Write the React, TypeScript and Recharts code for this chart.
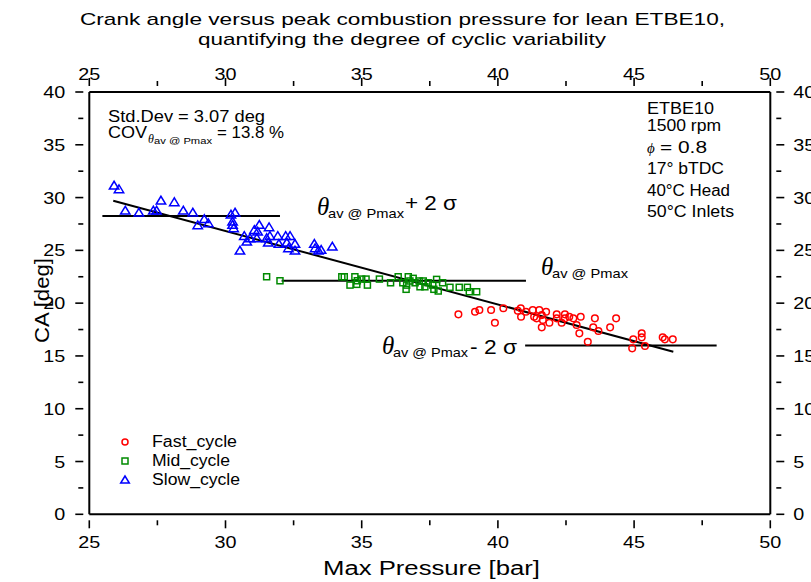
import React from 'react';
import { ScatterChart, Scatter, XAxis, YAxis, ReferenceLine, Legend } from 'recharts';

// Max pressure [bar] / crank angle [deg] pairs
const fastPmax = [38.55, 39.16, 39.32, 39.75, 39.89, 40.2, 40.73, 40.84, 40.85, 41.03, 41.28, 41.33, 41.42, 41.52, 41.61, 41.65, 41.61, 41.77, 41.89, 42.16, 42.16, 42.34, 42.46, 42.46, 42.62, 42.77, 43.04, 42.89, 42.99, 43.56, 43.5, 43.69, 43.3, 44.12, 44.34, 44.97, 44.93, 45.28, 45.28, 45.4, 46.05, 46.13, 46.42];
const fastCA = [18.94, 19.19, 19.35, 19.35, 18.14, 19.51, 19.28, 19.51, 18.71, 19.19, 19.35, 18.71, 18.56, 19.35, 18.87, 18.4, 17.71, 19.19, 18.14, 18.94, 18.56, 18.14, 18.94, 18.56, 18.71, 18.56, 18.71, 17.93, 17.14, 18.56, 17.71, 17.36, 16.34, 17.71, 18.56, 16.57, 15.72, 17.14, 16.76, 15.94, 16.76, 16.57, 16.57];

const midPmax = [31.51, 32.0, 34.27, 34.36, 34.75, 34.57, 34.82, 34.84, 35.0, 35.16, 35.21, 35.65, 36.06, 36.34, 36.51, 36.71, 36.65, 36.63, 36.77, 36.89, 36.96, 37.11, 37.14, 37.26, 37.32, 37.44, 37.61, 37.65, 37.75, 37.81, 37.97, 38.24, 38.58, 38.88, 38.95, 39.22];
const midCA = [22.5, 22.12, 22.5, 22.5, 22.5, 21.71, 21.78, 22.12, 22.28, 22.28, 21.71, 22.28, 21.93, 22.5, 21.93, 22.5, 21.71, 21.31, 22.1, 22.35, 21.93, 22.1, 21.55, 22.1, 21.55, 21.93, 21.71, 21.31, 22.25, 21.15, 21.93, 21.5, 21.5, 21.5, 21.08, 21.08];

const slowPmax = [25.91, 26.09, 27.63, 28.12, 26.32, 26.82, 27.35, 27.47, 28.45, 28.8, 29.22, 29.37, 28.98, 30.2, 30.35, 30.26, 30.26, 30.3, 30.69, 30.78, 30.53, 30.9, 31.06, 31.24, 31.18, 31.15, 31.6, 31.51, 31.63, 31.57, 31.92, 31.96, 32.21, 32.37, 32.25, 32.31, 32.55, 32.55, 33.26, 33.29, 33.41, 33.51, 33.92];
const slowCA = [31.12, 30.78, 29.7, 29.55, 28.75, 28.56, 28.75, 28.75, 28.75, 28.56, 27.94, 27.56, 27.37, 28.37, 28.56, 27.71, 27.4, 27.08, 26.35, 25.81, 24.96, 26.14, 26.92, 27.4, 26.76, 26.14, 27.18, 26.14, 26.35, 25.72, 26.35, 25.6, 26.35, 26.35, 25.72, 25.19, 25.6, 24.96, 25.6, 25.19, 24.96, 25.03, 25.34];

const meanCA = 22.12;
const stdDev = 3.07;
const upperBand = [25.48, 32.0];
const meanBand = [32.06, 41.03];
const lowerBand = [41.0, 48.03];
const fitStart = [25.88, 29.7];
const fitEnd = [46.44, 15.4];

const xTicks = [25, 27.5, 30, 32.5, 35, 37.5, 40, 42.5, 45, 47.5, 50];
const yTicks = [0, 2.5, 5, 7.5, 10, 12.5, 15, 17.5, 20, 22.5, 25, 27.5, 30, 32.5, 35, 37.5, 40];

const zip = (xs: number[], ys: number[]) => xs.map((x, i) => ({ x, y: ys[i] }));
const fastData = zip(fastPmax, fastCA);
const midData = zip(midPmax, midCA);
const slowData = zip(slowPmax, slowCA);

const FONT = '"Liberation Sans", Arial, sans-serif';
const RED = '#ff0000';
const GREEN = '#008a00';
const BLUE = '#0000ff';

const circleShape = (p: any) => <circle cx={p.cx} cy={p.cy} r={3.3} fill="none" stroke={RED} strokeWidth={1.5} />;
const squareShape = (p: any) => <rect x={p.cx - 3} y={p.cy - 3} width={6} height={6} fill="none" stroke={GREEN} strokeWidth={1.5} />;
const triangleShape = (p: any) => (
  <polygon points={`${p.cx},${p.cy - 4.5} ${p.cx - 4.7},${p.cy + 3.3} ${p.cx + 4.7},${p.cy + 3.3}`} fill="none" stroke={BLUE} strokeWidth={1.5} />
);

const isMajor = (v: number) => v % 5 === 0;
const labelWidth = (v: number) => String(v).length * 11;

const XTick = (props: any) => {
  const { x, y, payload, side } = props;
  const v = payload.value;
  const dir = side === 'bottom' ? 1 : -1;
  const len = isMajor(v) ? 8 : 5;
  return (
    <g>
      <line x1={x} x2={x} y1={y} y2={y + dir * len} stroke="#000" strokeWidth={1.6} />
      {isMajor(v) && (
        <text x={x} y={side === 'bottom' ? y + 27.5 : y - 6} textAnchor="middle" fontSize={16.5} fontFamily={FONT}
          textLength={labelWidth(v)} lengthAdjust="spacingAndGlyphs">{v}</text>
      )}
    </g>
  );
};

const YTick = (props: any) => {
  const { x, y, payload, side } = props;
  const v = payload.value;
  const dir = side === 'left' ? -1 : 1;
  const len = isMajor(v) ? 8 : 5;
  return (
    <g>
      <line x1={x} x2={x + dir * len} y1={y} y2={y} stroke="#000" strokeWidth={1.6} />
      {isMajor(v) && (
        <text x={side === 'left' ? x - 18 : x + 17} y={y + 6} textAnchor={side === 'left' ? 'end' : 'start'} fontSize={16.5}
          fontFamily={FONT} textLength={labelWidth(v)} lengthAdjust="spacingAndGlyphs">{v}</text>
      )}
    </g>
  );
};

const legendMarks: Record<string, (cx: number, cy: number) => React.ReactNode> = {
  Fast_cycle: (cx, cy) => <circle cx={cx} cy={cy} r={3} fill="none" stroke={RED} strokeWidth={1.5} />,
  Mid_cycle: (cx, cy) => <rect x={cx - 3} y={cy - 3} width={6} height={6} fill="none" stroke={GREEN} strokeWidth={1.5} />,
  Slow_cycle: (cx, cy) => <polygon points={`${cx},${cy - 4} ${cx - 4.3},${cy + 3} ${cx + 4.3},${cy + 3}`} fill="none" stroke={BLUE} strokeWidth={1.5} />,
};
const legendWidths: Record<string, number> = { Fast_cycle: 85, Mid_cycle: 78, Slow_cycle: 88 };

const renderLegend = (props: any) => {
  const items = props.payload || [];
  return (
    <svg width={150} height={64}>
      {items.map((it: any, i: number) => {
        const cy = 12 + i * 19;
        return (
          <g key={it.value}>
            {legendMarks[it.value]?.(15, cy)}
            <text x={42} y={cy + 5} fontSize={16} fontFamily={FONT} textLength={legendWidths[it.value]} lengthAdjust="spacingAndGlyphs">{it.value}</text>
          </g>
        );
      })}
    </svg>
  );
};

const T = ({ x, y, w, size = 16, children, italic, serif, anchor }: any) => (
  <text x={x} y={y} fontSize={size} textLength={w} lengthAdjust="spacingAndGlyphs" textAnchor={anchor}
    fontStyle={italic ? 'italic' : 'normal'} fontFamily={serif ? '"Liberation Serif", "DejaVu Serif", serif' : FONT}>
    {children}
  </text>
);

const Theta = ({ x, y, subW, rest, restW, restDx, restDy }: any) => (
  <g>
    <T x={x} y={y} size={25} italic serif>θ</T>
    <T x={x + 11} y={y + 3} w={subW} size={13}>av @ Pmax</T>
    {rest && <T x={x + 11 + subW + restDx} y={y + restDy} w={restW} size={21}>{rest}</T>}
  </g>
);

const Overlay = () => (
  <svg width={811} height={582} style={{ position: 'absolute', left: 0, top: 0, pointerEvents: 'none' }}>
    <T x={80} y={25} w={645} size={17}>Crank angle versus peak combustion pressure for lean ETBE10,</T>
    <T x={198} y={45} w={408} size={17}>quantifying the degree of cyclic variability</T>
    <T x={323} y={575} w={217} size={20}>Max Pressure [bar]</T>
    <g transform="translate(49,343) rotate(-90)">
      <T x={0} y={0} w={85} size={20}>CA [deg]</T>
    </g>

    <T x={108} y={122} w={157} size={16}>Std.Dev = 3.07 deg</T>
    <T x={108} y={138} w={39} size={16}>COV</T>
    <T x={148} y={143} size={12} italic serif>θ</T>
    <T x={154} y={144} w={58} size={9}>av @ Pmax</T>
    <T x={217} y={138} w={67} size={16}>= 13.8 %</T>

    <T x={647} y={114} w={67} size={16}>ETBE10</T>
    <T x={647} y={131} w={74} size={16}>1500 rpm</T>
    <T x={647} y={152.5} size={15} italic serif>ϕ</T>
    <T x={660} y={152.5} w={47} size={16}>= 0.8</T>
    <T x={647} y={174} w={77} size={16}>17° bTDC</T>
    <T x={647} y={195.5} w={83} size={16}>40°C Head</T>
    <T x={647} y={217} w={87} size={16}>50°C Inlets</T>

    <Theta x={317} y={215} subW={76} rest="+ 2 σ" restW={52} restDx={1} restDy={-5} />
    <Theta x={541} y={275} subW={76} />
    <Theta x={382} y={354} subW={75} rest="- 2 σ" restW={47} restDx={2} restDy={0} />
  </svg>
);

const App: React.FC = () => {
  const upper = meanCA + 2 * stdDev;
  const lower = meanCA - 2 * stdDev;
  return (
    <div style={{ position: 'absolute', left: 0, top: 0, width: 811, height: 582, background: '#fff' }}>
      <ScatterChart width={811} height={582} margin={{ top: 62, right: 0.7, bottom: 37.7, left: 49.3 }}>
        <XAxis xAxisId="b" type="number" dataKey="x" orientation="bottom" domain={[25, 50]} ticks={xTicks} interval={0}
          allowDataOverflow height={30} tickLine={false} tickMargin={0} axisLine={{ stroke: '#000', strokeWidth: 2 }}
          tick={(p: any) => <XTick {...p} side="bottom" />} />
        <XAxis xAxisId="t" type="number" dataKey="x" orientation="top" domain={[25, 50]} ticks={xTicks} interval={0}
          allowDataOverflow height={30} tickLine={false} tickMargin={0} axisLine={{ stroke: '#000', strokeWidth: 2 }}
          tick={(p: any) => <XTick {...p} side="top" />} />
        <YAxis yAxisId="l" type="number" dataKey="y" orientation="left" domain={[0, 40]} ticks={yTicks} interval={0}
          allowDataOverflow width={40} tickLine={false} tickMargin={0} axisLine={{ stroke: '#000', strokeWidth: 2 }}
          tick={(p: any) => <YTick {...p} side="left" />} />
        <YAxis yAxisId="r" type="number" dataKey="y" orientation="right" domain={[0, 40]} ticks={yTicks} interval={0}
          allowDataOverflow width={40} tickLine={false} tickMargin={0} axisLine={{ stroke: '#000', strokeWidth: 2 }}
          tick={(p: any) => <YTick {...p} side="right" />} />

        <ReferenceLine xAxisId="b" yAxisId="l" ifOverflow="visible" stroke="#000" strokeWidth={2}
          segment={[{ x: upperBand[0], y: upper }, { x: upperBand[1], y: upper }]} />
        <ReferenceLine xAxisId="b" yAxisId="l" ifOverflow="visible" stroke="#000" strokeWidth={2}
          segment={[{ x: meanBand[0], y: meanCA }, { x: meanBand[1], y: meanCA }]} />
        <ReferenceLine xAxisId="b" yAxisId="l" ifOverflow="visible" stroke="#000" strokeWidth={2}
          segment={[{ x: lowerBand[0], y: lower }, { x: lowerBand[1], y: lower }]} />
        <ReferenceLine xAxisId="b" yAxisId="l" ifOverflow="visible" stroke="#000" strokeWidth={2}
          segment={[{ x: fitStart[0], y: fitStart[1] }, { x: fitEnd[0], y: fitEnd[1] }]} />

        <Scatter name="Fast_cycle" data={fastData} xAxisId="b" yAxisId="l" shape={circleShape} fill={RED} isAnimationActive={false} />
        <Scatter name="Mid_cycle" data={midData} xAxisId="b" yAxisId="l" shape={squareShape} fill={GREEN} isAnimationActive={false} />
        <Scatter name="Slow_cycle" data={slowData} xAxisId="b" yAxisId="l" shape={triangleShape} fill={BLUE} isAnimationActive={false} />
        <Scatter data={[]} xAxisId="t" yAxisId="r" legendType="none" isAnimationActive={false} />

        <Legend layout="vertical" align="center" verticalAlign="middle" content={renderLegend}
          wrapperStyle={{ left: 110, top: 430, width: 150, height: 64 }} />
      </ScatterChart>
      <Overlay />
    </div>
  );
};

export default App;
